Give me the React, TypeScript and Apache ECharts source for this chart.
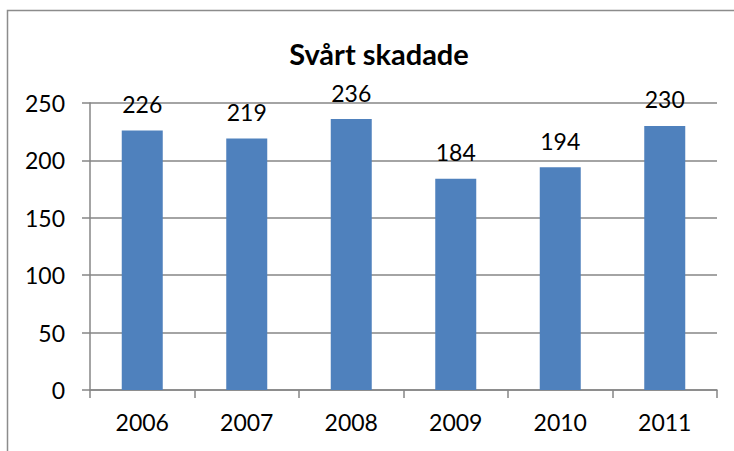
import React, { useEffect, useRef } from "react";
import * as echarts from "echarts";

const categories = ["2006", "2007", "2008", "2009", "2010", "2011"];
const values = [226, 219, 236, 184, 194, 230];
const titleText = "Svårt skadade";

export default function App() {
  const ref = useRef<HTMLDivElement>(null);
  useEffect(() => {
    const chart = echarts.init(ref.current!, null, { renderer: "svg" });
    const font = "Lato, 'Open Sans', sans-serif";
    chart.setOption({
      animation: false,
      backgroundColor: "#ffffff",
      title: {
        text: titleText,
        left: 374,
        textAlign: "center",
        top: 34,
        textStyle: { fontFamily: font, fontSize: 29, fontWeight: "bold", color: "#000" },
      },
      graphic: [
        {
          type: "rect",
          shape: { x: 7.5, y: 10.5, width: 760, height: 480 },
          style: { fill: "none", stroke: "#8c8c8c", lineWidth: 1.5 },
          silent: true,
        },
      ],
      grid: { left: 90, right: 17, top: 103, bottom: 61, containLabel: false },
      xAxis: {
        type: "category",
        data: categories,
        axisLine: { show: true, lineStyle: { color: "#868686", width: 1.5 } },
        axisTick: { show: true, alignWithLabel: false, length: 8, lineStyle: { color: "#868686", width: 1.5 } },
        axisLabel: { fontFamily: font, fontSize: 23, color: "#000", margin: 20 },
      },
      yAxis: {
        type: "value",
        min: 0,
        max: 250,
        interval: 50,
        axisLine: { show: true, lineStyle: { color: "#868686", width: 1.5 } },
        axisTick: { show: true, length: 8, lineStyle: { color: "#868686", width: 1.5 } },
        axisLabel: { fontFamily: font, fontSize: 23, color: "#000", margin: 25 },
        splitLine: { show: true, lineStyle: { color: "#868686", width: 1.5 } },
      },
      series: [
        {
          type: "bar",
          data: values,
          barWidth: 41,
          itemStyle: { color: "#4F81BD" },
          label: {
            show: true,
            position: "top",
            distance: 15,
            fontFamily: font,
            fontSize: 23,
            color: "#000",
          },
        },
      ],
    });
    return () => chart.dispose();
  }, []);
  return <div ref={ref} style={{ width: 734, height: 451, position: "absolute", left: 0, top: 0 }} />;
}
